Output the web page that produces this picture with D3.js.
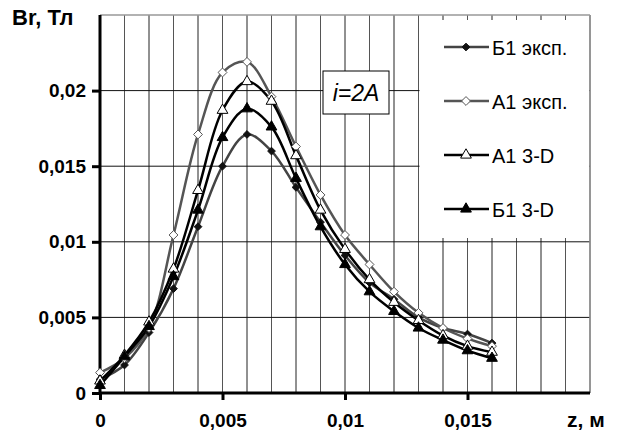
<!DOCTYPE html>
<html lang="ru">
<head>
<meta charset="UTF-8">
<title>Br(z)</title>
<script src="https://cdn.jsdelivr.net/npm/d3@7/dist/d3.min.js"></script>
<style>
    body { margin: 0; background: #fff; }
    text { font-family: Arial, "Liberation Sans", sans-serif; }
</style>
</head>
<body>
<div id="chart"></div>
<script>
    // данные
    const zVals = [0, 0.001, 0.002, 0.003, 0.004, 0.005, 0.006, 0.007, 0.008,
        0.009, 0.01, 0.011, 0.012, 0.013, 0.014, 0.015, 0.016]
    const b1Exp = [0.0009, 0.00185, 0.004, 0.0069, 0.011, 0.015, 0.0171, 0.016, 0.0136,
        0.0113, 0.0091, 0.0073, 0.0062, 0.005, 0.0043, 0.0039, 0.0033]
    const a1Exp = [0.00135, 0.0023, 0.0043, 0.01045, 0.0171, 0.0212, 0.0219, 0.0196, 0.0163,
        0.0131, 0.01045, 0.0085, 0.0067, 0.0053, 0.0043, 0.0036, 0.0031]
    const a13d = [0.0008, 0.0025, 0.0047, 0.0082, 0.0134, 0.0187, 0.0206, 0.0193, 0.0157,
        0.0121, 0.0095, 0.0075, 0.006, 0.0048, 0.0038, 0.0031, 0.0027]
    const b13d = [0.0005, 0.0024, 0.0044, 0.0077, 0.0121, 0.0169, 0.0188, 0.0176, 0.0142,
        0.011, 0.0085, 0.0067, 0.0054, 0.0043, 0.0035, 0.0028, 0.0023]
    const seriesNames = ['Б1 эксп.', 'А1 эксп.', 'А1 3-D', 'Б1 3-D']
    const xTicks = [0, 0.005, 0.01, 0.015]
    const yTicks = [0, 0.005, 0.01, 0.015, 0.02]

    const width = 619, height = 435
    const margin = { left: 100, top: 15, right: 29, bottom: 42 }
    const w = width - margin.left - margin.right
    const h = height - margin.top - margin.bottom
    const fmt = d => d === 0 ? '0' : String(d).replace('.', ',')

    const svg = d3.select('#chart').append('svg').attr('width', width).attr('height', height)
    const g = svg.append('g').attr('transform', `translate(${margin.left},${margin.top})`)

    const x = d3.scaleLinear().domain([0, 0.02]).range([0, w])
    const y = d3.scaleLinear().domain([0, 0.025]).range([h, 0])

    // сетка
    g.append('g').selectAll('line').data(d3.range(1, 21).map(i => i * 0.001)).join('line')
        .attr('x1', d => x(d)).attr('x2', d => x(d)).attr('y1', 0).attr('y2', h)
        .attr('stroke', (d, i) => i % 2 ? '#222' : '#555').attr('stroke-width', 1)
    g.append('g').selectAll('line').data(d3.range(1, 5).map(i => i * 0.005)).join('line')
        .attr('x1', 0).attr('x2', w).attr('y1', d => y(d)).attr('y2', d => y(d))
        .attr('stroke', '#111').attr('stroke-width', 1)
    // рамка
    g.append('line').attr('x1', 0).attr('x2', w).attr('y1', 0).attr('y2', 0).attr('stroke', '#999').attr('stroke-width', 1.5)
    g.append('line').attr('x1', w).attr('x2', w).attr('y1', 0).attr('y2', h).attr('stroke', '#999').attr('stroke-width', 1.5)

    // легенда (белый фон)
    g.append('rect').attr('x', x(0.013) + 1).attr('y', 5).attr('width', w - x(0.013) - 2).attr('height', 218)
        .attr('fill', '#fff')

    // оси
    const yAxis = g.append('g').call(d3.axisLeft(y).tickValues(yTicks).tickFormat(fmt).tickSize(8).tickPadding(6))
    const xAxis = g.append('g').attr('transform', `translate(0,${h})`)
        .call(d3.axisBottom(x).tickValues(xTicks).tickFormat(fmt).tickSize(7).tickPadding(14))
    ;[yAxis, xAxis].forEach(a => {
        a.select('.domain').attr('stroke', '#000').attr('stroke-width', 3)
        a.selectAll('.tick line').attr('stroke', '#000').attr('stroke-width', 3)
        a.selectAll('text').attr('font-size', 19).attr('font-weight', 'bold').attr('fill', '#000')
            .attr('font-family', 'Arial, "Liberation Sans", sans-serif')
    })
    xAxis.select('.domain').attr('d', `M0,0H${w}`)
    yAxis.select('.domain').attr('d', `M0,${h}V0`)

    svg.append('text').attr('x', 12).attr('y', 25).attr('font-size', 22).attr('font-weight', 'bold').text('Br, Тл')
    svg.append('text').attr('x', 567).attr('y', 427).attr('font-size', 21).attr('font-weight', 'bold').text('z, м')

    // ряды
    const series = [
        { name: seriesNames[0], values: b1Exp, line: '#444', marker: 'diamond', fill: '#111', size: 38 },
        { name: seriesNames[1], values: a1Exp, line: '#555', marker: 'diamond', fill: '#fff', size: 50 },
        { name: seriesNames[2], values: a13d, line: '#000', marker: 'triangle', fill: '#fff', size: 50 },
        { name: seriesNames[3], values: b13d, line: '#000', marker: 'triangle', fill: '#000', size: 50 }
    ]
    const symbolType = { diamond: d3.symbolDiamond2, triangle: d3.symbolTriangle }

    const line = d3.line().x((d, i) => x(zVals[i])).y(d => y(d)).curve(d3.curveCatmullRom.alpha(0.5))

    series.forEach(s => {
        g.append('path').attr('d', line(s.values)).attr('fill', 'none')
            .attr('stroke', s.line).attr('stroke-width', 2.5)
    })
    series.forEach(s => {
        const sym = d3.symbol().type(symbolType[s.marker]).size(s.size)
        g.append('g').selectAll('path').data(s.values).join('path')
            .attr('d', sym)
            .attr('transform', (d, i) => `translate(${x(zVals[i])},${y(d)})`)
            .attr('fill', s.fill).attr('stroke', s.fill === '#fff' ? s.line : s.fill).attr('stroke-width', 1)
    })

    // легенда
    const leg = svg.append('g')
    series.forEach((s, i) => {
        const ly = 47 + i * 54
        leg.append('line').attr('x1', 444).attr('x2', 489).attr('y1', ly).attr('y2', ly)
            .attr('stroke', s.line).attr('stroke-width', 2.5)
        leg.append('path').attr('d', d3.symbol().type(symbolType[s.marker]).size(s.size)())
            .attr('transform', `translate(466,${ly})`)
            .attr('fill', s.fill).attr('stroke', s.fill === '#fff' ? s.line : s.fill).attr('stroke-width', 1)
        leg.append('text').attr('x', 492).attr('y', ly + 8).attr('font-size', 20).text(s.name)
    })

    // подпись тока
    svg.append('rect').attr('x', 323).attr('y', 71).attr('width', 66).attr('height', 43)
        .attr('fill', '#fff').attr('stroke', '#000').attr('stroke-width', 1)
    svg.append('text').attr('x', 356).attr('y', 101).attr('text-anchor', 'middle')
        .attr('font-size', 23).attr('font-style', 'italic').text('i=2A')
</script>
</body>
</html>
